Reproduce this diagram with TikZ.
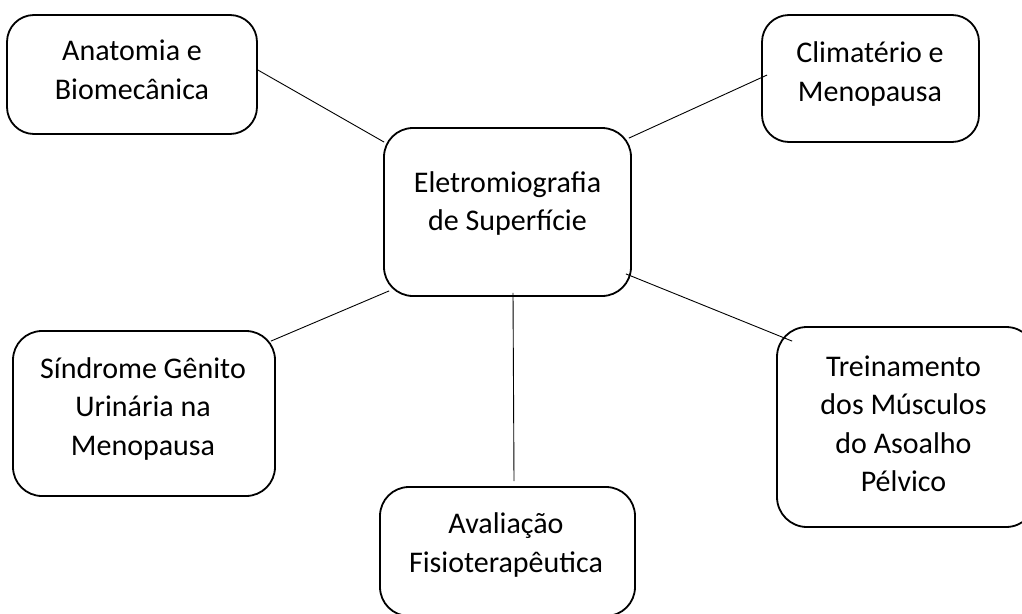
\documentclass[tikz,border=0pt]{standalone}
\usepackage{fontspec}
\setmainfont{Carlito}
\newcommand\lnstrut{\rule[-8pt]{0pt}{32pt}}
\tikzset{
  box/.style={draw=black, line width=1.8pt, rounded corners=27pt, inner sep=0pt, fill=none},
  txt/.style={font=\fontsize{30}{38.5}\selectfont, align=center, anchor=north, inner sep=0pt},
  link/.style={draw=black, line width=0.9pt}
}
\begin{document}
\begin{tikzpicture}[x=1pt,y=-1pt]
\clip (0,0) rectangle (1022,613);
\fill[white] (0,0) rectangle (1022,613);
% boxes
\node[box, minimum width=250pt, minimum height=119pt] (ana) at (132,74.5) {};
\node[box, minimum width=217pt, minimum height=127pt] (cli) at (870.5,78.5) {};
\node[box, minimum width=247pt, minimum height=168pt, rounded corners=29pt] (emg) at (507.5,212) {};
\node[box, minimum width=262pt, minimum height=165pt, rounded corners=29pt] (sgu) at (144,413.5) {};
\node[box, minimum width=259pt, minimum height=200pt, rounded corners=30pt] (tmp) at (906.5,427) {};
\node[box, minimum width=255pt, minimum height=129pt, rounded corners=29pt] (ava) at (507.5,551.5) {};
% texts (first baseline at y+24)
\node[txt] (tana) at (132,36.5) {\lnstrut Anatomia e\\\lnstrut Biomecânica};
\node[txt] (tcli) at (870,38.5) {\lnstrut Climatério e\\\lnstrut Menopausa};
\node[txt] (temg) at (507.5,168) {\lnstrut Eletromiografia\\\lnstrut de Superfície};
\node[txt] (tsgu) at (143,354) {\lnstrut Síndrome Gênito\\\lnstrut Urinária na\\\lnstrut Menopausa};
\node[txt] (ttmp) at (903.5,352) {\lnstrut Treinamento\\\lnstrut dos Músculos\\\lnstrut do Asoalho\\\lnstrut Pélvico};
\node[txt] (tava) at (506,509.5) {\lnstrut Avaliação\\\lnstrut Fisioterapêutica};
% connectors
\draw[link] ([yshift=4.5pt]ana.east) -- ([xshift=1pt,yshift=-15pt]emg.north west);
\draw[link] ([xshift=6pt,yshift=3.5pt]cli.west) -- ([xshift=-3pt,yshift=-11pt]emg.north east);
\draw[link] ([xshift=-5pt,yshift=-11pt]sgu.north east) -- ([xshift=6pt,yshift=6pt]emg.south west);
\draw[link] ([xshift=5.5pt,yshift=4pt]emg.south) -- ([xshift=6.5pt,yshift=5pt]ava.north);
\draw[link] ([xshift=-6pt,yshift=23pt]emg.south east) -- ([xshift=16pt,yshift=-15pt]tmp.north west);
\end{tikzpicture}
\end{document}
